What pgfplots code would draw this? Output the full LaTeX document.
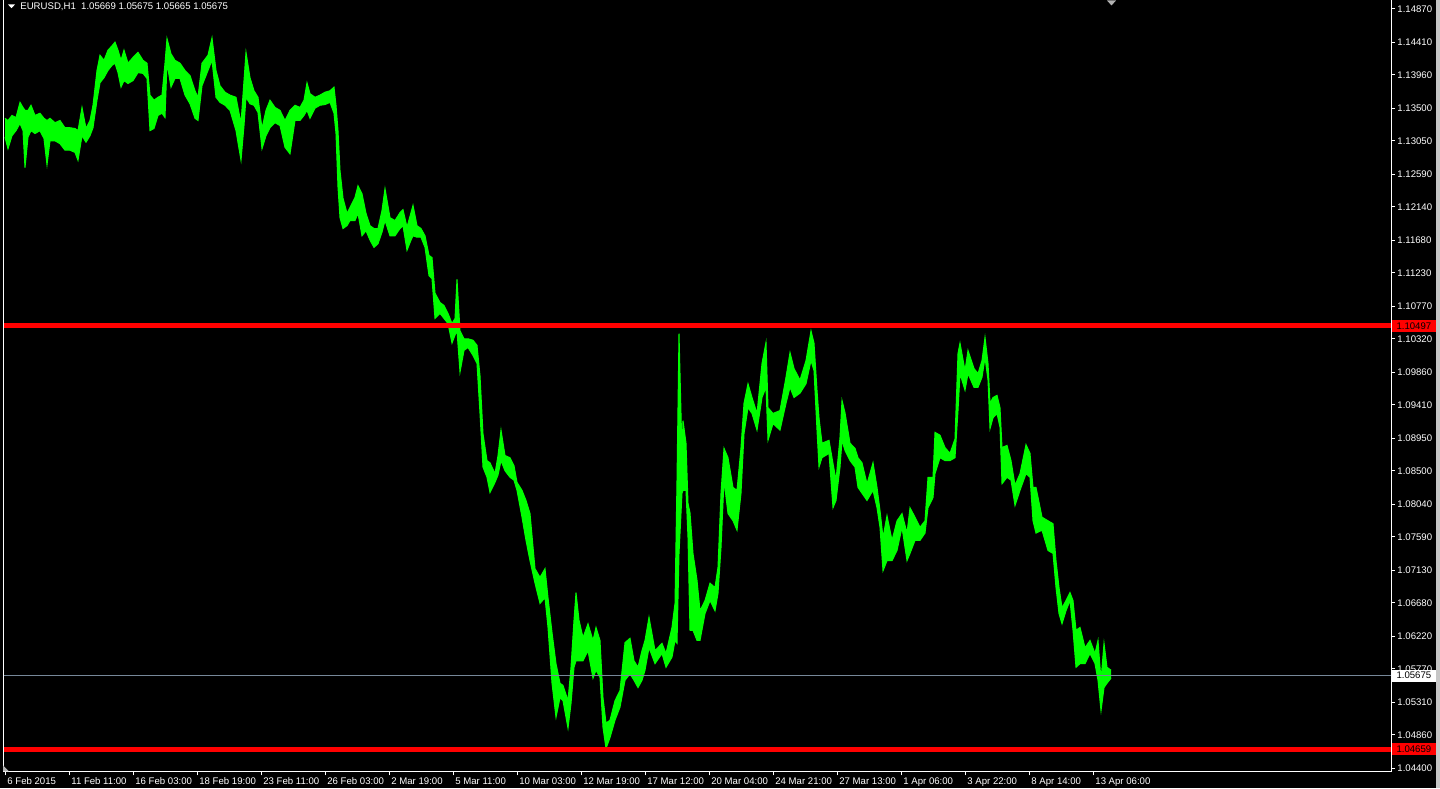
\documentclass[border=0pt]{standalone}
\usepackage{pgfplots}
\pgfplotsset{compat=1.18}
\usepackage{pgfplotstable}
\usepgfplotslibrary{fillbetween}
\usepackage{fontspec}
\setmainfont{Liberation Sans}
\definecolor{mtgreen}{RGB}{0,255,0}
\definecolor{bidline}{RGB}{119,136,153}
\newcommand{\mtfont}{\fontsize{4.8}{5}\selectfont}
\pagecolor{black}

% EURUSD H1 bars, sampled: bar index, high, low
\pgfplotstableread{
x hi lo
5 1.1336 1.1310
8 1.1333 1.1294
12 1.1340 1.1312
16 1.1337 1.1319
20 1.1358 1.1329
23 1.1351 1.1319
25 1.1347 1.1268
28 1.1347 1.1310
31 1.1354 1.1319
35 1.1340 1.1315
40 1.1343 1.1319
44 1.1336 1.1308
47 1.1333 1.1272
50 1.1336 1.1305
55 1.1330 1.1305
60 1.1333 1.1301
65 1.1323 1.1292
70 1.1323 1.1292
75 1.1322 1.1289
78 1.1319 1.1278
82 1.1351 1.1312
86 1.1322 1.1303
90 1.1333 1.1312
93 1.1354 1.1323
97 1.1402 1.1361
100 1.1423 1.1385
104 1.1416 1.1392
108 1.1430 1.1402
112 1.1436 1.1409
115 1.1441 1.1412
118 1.1430 1.1399
121 1.1416 1.1379
124 1.1430 1.1388
128 1.1412 1.1384
133 1.1420 1.1388
138 1.1427 1.1399
143 1.1416 1.1398
147 1.1412 1.1391
150 1.1368 1.1319
154 1.1361 1.1322
158 1.1365 1.1340
162 1.1368 1.1343
165 1.1412 1.1337
167 1.1446 1.1412
171 1.1425 1.1379
175 1.1416 1.1391
180 1.1412 1.1391
185 1.1402 1.1368
190 1.1395 1.1356
195 1.1374 1.1336
198 1.1365 1.1333
202 1.1412 1.1381
208 1.1423 1.1402
212 1.1447 1.1416
216 1.1402 1.1365
220 1.1381 1.1358
225 1.1372 1.1354
230 1.1368 1.1347
236 1.1365 1.1319
241 1.1329 1.1278
244 1.1388 1.1326
246 1.1427 1.1365
250 1.1392 1.1356
254 1.1374 1.1354
258 1.1365 1.1344
262 1.1322 1.1294
266 1.1347 1.1312
270 1.1361 1.1323
275 1.1351 1.1330
280 1.1347 1.1326
285 1.1333 1.1296
290 1.1347 1.1287
295 1.1354 1.1333
300 1.1351 1.1333
304 1.1361 1.1340
307 1.1385 1.1347
310 1.1370 1.1336
315 1.1365 1.1350
320 1.1368 1.1354
325 1.1372 1.1355
330 1.1374 1.1358
334 1.1379 1.1343
336 1.1354 1.1315
338 1.1319 1.1241
340 1.1264 1.1199
343 1.1226 1.1184
347 1.1205 1.1188
350 1.1213 1.1195
355 1.1227 1.1195
358 1.1243 1.1205
362 1.1232 1.1174
366 1.1205 1.1181
370 1.1188 1.1168
374 1.1184 1.1158
378 1.1184 1.1163
382 1.1209 1.1179
385 1.1239 1.1195
390 1.1199 1.1174
395 1.1195 1.1174
400 1.1206 1.1184
403 1.1210 1.1188
407 1.1186 1.1154
411 1.1206 1.1168
413 1.1216 1.1174
417 1.1188 1.1172
421 1.1184 1.1172
425 1.1174 1.1158
429 1.1147 1.1119
432 1.1144 1.1115
435 1.1095 1.1060
440 1.1082 1.1067
444 1.1078 1.1060
448 1.1067 1.1053
452 1.1053 1.1026
455 1.1060 1.1037
457 1.1114 1.1043
460 1.1043 1.0986
464 1.1032 1.1016
468 1.1032 1.1020
473 1.1030 1.1009
477 1.1023 1.0998
480 1.0981 1.0929
483 1.0901 1.0855
487 1.0864 1.0841
490 1.0861 1.0820
495 1.0846 1.0834
498 1.0871 1.0844
501 1.0906 1.0864
505 1.0871 1.0850
510 1.0868 1.0841
514 1.0857 1.0837
517 1.0834 1.0823
522 1.0823 1.0786
526 1.0809 1.0754
530 1.0791 1.0726
535 1.0715 1.0695
540 1.0703 1.0667
545 1.0715 1.0675
548 1.0675 1.0634
552 1.0627 1.0557
556 1.0584 1.0510
560 1.0557 1.0537
563 1.0554 1.0533
568 1.0533 1.0495
571 1.0579 1.0529
574 1.0644 1.0579
576 1.0682 1.0588
579 1.0644 1.0588
583 1.0620 1.0588
588 1.0639 1.0602
593 1.0616 1.0564
596 1.0634 1.0575
600 1.0616 1.0565
603 1.0537 1.0496
606 1.0502 1.0467
610 1.0506 1.0482
615 1.0533 1.0506
620 1.0547 1.0524
625 1.0613 1.0561
630 1.0619 1.0570
634 1.0588 1.0561
638 1.0579 1.0551
642 1.0602 1.0561
645 1.0616 1.0575
649 1.0648 1.0606
655 1.0602 1.0584
662 1.0612 1.0598
666 1.0598 1.0579
672 1.0634 1.0593
675 1.0667 1.0616
677 1.0837 1.0612
679 1.1039 1.0736
682 1.0874 1.0819
683 1.0919 1.0823
686 1.0888 1.0823
688 1.0805 1.0758
690 1.0792 1.0630
693 1.0736 1.0630
697 1.0699 1.0616
700 1.0657 1.0616
705 1.0671 1.0653
710 1.0695 1.0671
715 1.0689 1.0657
718 1.0717 1.0681
721 1.0819 1.0744
724 1.0881 1.0837
728 1.0868 1.0791
733 1.0827 1.0781
737 1.0823 1.0768
741 1.0882 1.0819
744 1.0943 1.0901
748 1.0970 1.0937
752 1.0951 1.0929
757 1.0929 1.0906
762 1.0998 1.0951
766 1.1027 1.0965
768 1.0937 1.0892
773 1.0929 1.0915
780 1.0933 1.0906
786 1.0979 1.0943
790 1.1013 1.0965
794 1.0991 1.0951
800 1.0975 1.0957
806 1.1002 1.0970
811 1.1043 1.1002
814 1.1026 1.0988
817 1.0961 1.0906
819 1.0923 1.0855
822 1.0888 1.0868
829 1.0892 1.0874
833 1.0860 1.0799
836 1.0837 1.0809
840 1.0896 1.0855
842 1.0947 1.0892
845 1.0930 1.0878
850 1.0888 1.0864
855 1.0881 1.0855
858 1.0868 1.0827
862 1.0861 1.0819
867 1.0832 1.0809
873 1.0861 1.0823
877 1.0827 1.0799
880 1.0795 1.0772
883 1.0758 1.0712
887 1.0788 1.0726
892 1.0754 1.0726
897 1.0781 1.0740
902 1.0791 1.0772
907 1.0764 1.0726
910 1.0799 1.0736
915 1.0786 1.0754
920 1.0772 1.0754
925 1.0781 1.0764
928 1.0841 1.0799
933 1.0841 1.0813
935 1.0903 1.0846
940 1.0899 1.0868
945 1.0882 1.0864
950 1.0874 1.0864
955 1.0894 1.0868
958 1.1012 1.0933
960 1.1026 1.0984
965 1.0988 1.0961
968 1.1016 1.0984
974 1.0991 1.0965
978 1.0984 1.0965
982 1.1002 1.0979
985 1.1034 1.1006
988 1.0998 1.0975
990 1.0943 1.0908
993 1.0951 1.0923
997 1.0954 1.0929
1000 1.0937 1.0910
1002 1.0882 1.0832
1007 1.0885 1.0841
1011 1.0864 1.0837
1015 1.0830 1.0802
1020 1.0846 1.0823
1026 1.0886 1.0846
1030 1.0874 1.0841
1033 1.0827 1.0781
1036 1.0827 1.0764
1042 1.0786 1.0768
1048 1.0781 1.0740
1053 1.0777 1.0736
1056 1.0726 1.0689
1059 1.0689 1.0653
1062 1.0661 1.0639
1066 1.0671 1.0657
1070 1.0682 1.0671
1073 1.0671 1.0630
1076 1.0630 1.0579
1080 1.0634 1.0584
1085 1.0606 1.0584
1090 1.0616 1.0598
1095 1.0598 1.0584
1098 1.0616 1.0561
1101 1.0561 1.0519
1104 1.0612 1.0551
1107 1.0579 1.0557
1111 1.0575 1.0564
}\bars

\begin{document}
\begin{tikzpicture}
\path (0,0) rectangle (720pt,394pt);
\fill[gray!45] (718pt,0) rectangle (720pt,394pt);
\begin{axis}[
  at={(1.5pt,8.5pt)}, anchor=south west,
  scale only axis, width=694pt, height=385.5pt,
  xmin=3, xmax=1391, ymin=1.04353, ymax=1.14985,
  clip=false,
  axis line style={draw=none},
  xtick pos=left, ytick pos=right, yticklabel pos=right,
  tick align=outside, major tick length=2pt,
  tick style={white, line width=0.5pt},
  /pgf/number format/assume math mode=true,
  xtick={5,69,133,197,261,325,389,453,517,581,645,709,773,837,901,965,1029,1093},
  xticklabels={6 Feb 2015,11 Feb 11:00,16 Feb 03:00,18 Feb 19:00,23 Feb 11:00,26 Feb 03:00,2 Mar 19:00,5 Mar 11:00,10 Mar 03:00,12 Mar 19:00,17 Mar 12:00,20 Mar 04:00,24 Mar 21:00,27 Mar 13:00,1 Apr 06:00,3 Apr 22:00,8 Apr 14:00,13 Apr 06:00},
  ytick={1.14870,1.14410,1.13960,1.13500,1.13050,1.12590,1.12140,1.11680,1.11230,1.10770,1.10320,1.09860,1.09410,1.08950,1.08500,1.08040,1.07590,1.07130,1.06680,1.06220,1.05770,1.05310,1.04860,1.04400},
  yticklabels={1.14870,1.14410,1.13960,1.13500,1.13050,1.12590,1.12140,1.11680,1.11230,1.10770,1.10320,1.09860,1.09410,1.08950,1.08500,1.08040,1.07590,1.07130,1.06680,1.06220,1.05770,1.05310,1.04860,1.04400},
  ticklabel style={text=white, font=\mtfont},
  xticklabel style={anchor=north west, inner sep=0pt, xshift=1pt, yshift=-1pt},
  yticklabel style={anchor=west, inner sep=0pt, xshift=1pt},
]
\addplot[name path=hi, mtgreen, line width=0.5pt] table[x=x, y=hi]{\bars};
\addplot[name path=lo, mtgreen, line width=0.5pt] table[x=x, y=lo]{\bars};
\addplot[fill=mtgreen, draw=none] fill between[of=hi and lo];

\addplot[red, line width=2.5pt] coordinates {(3,1.10497) (1391,1.10497)};
\addplot[red, line width=2.5pt] coordinates {(3,1.04659) (1391,1.04659)};
\addplot[bidline, line width=0.5pt] coordinates {(3,1.05675) (1391,1.05675)};

\draw[white, line width=0.5pt] (rel axis cs:0,1) -- (rel axis cs:0,0) -- (rel axis cs:1,0) -- (rel axis cs:1,1);

\node[fill=red, text=black, inner sep=0pt, minimum width=22pt, minimum height=6pt, anchor=west, font=\mtfont] at (axis cs:1391.5,1.10497) {1.10497};
\node[fill=red, text=black, inner sep=0pt, minimum width=22pt, minimum height=6pt, anchor=west, font=\mtfont] at (axis cs:1391.5,1.04659) {1.04659};
\node[fill=white, text=black, inner sep=0pt, minimum width=22pt, minimum height=6pt, anchor=west, font=\mtfont] at (axis cs:1391.5,1.05675) {1.05675};
\end{axis}
\fill[white] (4pt,392pt) -- (7.5pt,392pt) -- (5.75pt,390.2pt) -- cycle;
\node[anchor=west, inner sep=0pt, text=white, font=\mtfont] at (10pt,390.7pt) {EURUSD,H1\ \ 1.05669 1.05675 1.05665 1.05675};
\fill[gray!60] (553.5pt,394pt) -- (558pt,394pt) -- (555.75pt,391.5pt) -- cycle;
\fill[gray!60] (1.5pt,8.5pt) -- (4.5pt,8.5pt) -- (1.5pt,11.5pt) -- cycle;
\end{tikzpicture}
\end{document}
